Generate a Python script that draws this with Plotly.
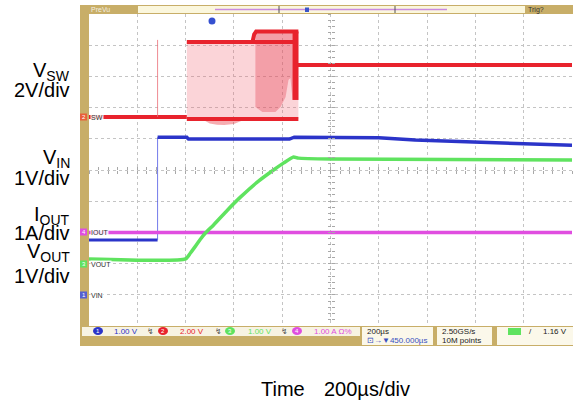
import plotly.graph_objects as go

# ---------------- data (time in µs from left screen edge) ----------------
# channel settings: ground position (divisions from centre) and units/div
sw_ground, sw_scale = 1.70, 2.0      # V_SW 2 V/div
vin_ground, vin_scale = -4.0, 1.0    # V_IN 1 V/div
iout_ground, iout_scale = -2.0, 1.0  # I_OUT 1 A/div
vout_ground, vout_scale = -3.0, 1.0  # V_OUT 1 V/div

# V_SW (volts)
vsw_pre_t = [0, 405]
vsw_pre_v = [0.0, 0.0]
vsw_spike_t = [284, 284]
vsw_spike_v = [0.0, 4.94]
vsw_top1_t = [405, 860]
vsw_top1_v = [4.81, 4.81]
vsw_top2_t = [677, 684, 692, 867]
vsw_top2_v = [4.81, 5.30, 5.48, 5.48]
vsw_bot_t = [405, 867]
vsw_bot_v = [-0.13, -0.13]
vsw_bump_t = [474, 500, 530, 560, 600, 640]
vsw_bump_v = [-0.20, -0.42, -0.50, -0.51, -0.45, -0.20]
vsw_dark_t = [689, 718, 772, 793, 814, 826, 834, 843]
vsw_dark_low = [0.64, 0.32, 0.32, 0.64, 1.28, 2.37, 2.50, 1.09]
vsw_bar_t = [855, 855]
vsw_bar_v = [1.09, 5.48]
vsw_post_t = [862, 1200, 1600, 2000]
vsw_post_v = [3.33, 3.33, 3.33, 3.33]

# V_IN (volts)
vin_pre_t = [0, 284]
vin_pre_v = [1.76, 1.76]
vin_step_t = [284, 284]
vin_step_v = [1.76, 5.05]
vin_t = [284, 405, 412, 830, 850, 1200, 1350, 1620, 2000]
vin_v = [5.05, 5.05, 4.99, 4.99, 5.05, 5.03, 4.96, 4.88, 4.79]

# I_OUT (amps)
iout_t = [0, 2000]
iout_v = [0.0, 0.0]

# V_OUT (volts)
vout_t = [0, 400, 420, 441, 462, 482, 516, 574, 627, 698, 764, 805, 847, 867, 1000, 2000]
vout_v = [0.15, 0.15, 0.34, 0.56, 0.79, 0.98, 1.24, 1.72, 2.13, 2.62, 3.00, 3.22, 3.42, 3.38, 3.35, 3.32]

# left labels / captions
left_labels = [("V<sub>SW</sub>", 70), ("2V/div", 89), ("V<sub>IN</sub>", 157), ("1V/div", 177),
               ("I<sub>OUT</sub>", 215), ("1A/div", 232), ("V<sub>OUT</sub>", 252), ("1V/div", 275)]
x_caption = ["Time", "200µs/div"]

# ---------------- helpers ----------------
W, H = 573, 407
L, R, T, B = 89, 572, 14, 326


def px(x):
    return (x - L) / (R - L)


def py(y):
    return (B - y) / (B - T)


def dv(vals, ground, scale):
    return [ground + v / scale for v in vals]


RED = "#e8232d"
BLUE = "#2b34c9"
GREEN = "#5fe35f"
MAG = "#e04ee0"
TAN = "#c8ae68"

fig = go.Figure()

# switching envelope fills
env_t = vsw_top1_t[:1] + [677] + vsw_top2_t[1:] + vsw_bot_t[::-1]
env_v = [4.81, 4.81] + vsw_top2_v[1:] + vsw_bot_v[::-1]
fig.add_trace(go.Scatter(x=env_t, y=dv(env_v, sw_ground, sw_scale), fill="toself",
                         fillcolor="rgba(240,100,115,0.28)", line=dict(width=0), mode="lines"))
bump_t = vsw_bump_t
fig.add_trace(go.Scatter(x=bump_t + bump_t[::-1], y=dv(vsw_bump_v + [-0.13] * len(bump_t), sw_ground, sw_scale),
                         fill="toself", fillcolor="rgba(232,50,60,0.40)", line=dict(width=0), mode="lines"))
dark_x = vsw_dark_t + vsw_dark_t[::-1]
dark_y = vsw_dark_low + [5.48] * len(vsw_dark_t)
fig.add_trace(go.Scatter(x=dark_x, y=dv(dark_y, sw_ground, sw_scale), fill="toself",
                         fillcolor="rgba(228,60,80,0.35)", line=dict(width=0), mode="lines"))

# V_SW lines
for tt, vv, w in [(vsw_pre_t, vsw_pre_v, 4), (vsw_top1_t, vsw_top1_v, 4), (vsw_top2_t, vsw_top2_v, 4),
                  (vsw_bot_t, vsw_bot_v, 4), (vsw_bar_t, vsw_bar_v, 6), (vsw_post_t, vsw_post_v, 4)]:
    fig.add_trace(go.Scatter(x=tt, y=dv(vv, sw_ground, sw_scale), mode="lines",
                             line=dict(color=RED, width=w)))
fig.add_trace(go.Scatter(x=vsw_spike_t, y=dv(vsw_spike_v, sw_ground, sw_scale), mode="lines",
                         line=dict(color="rgba(235,110,120,0.8)", width=1)))

# V_IN
fig.add_trace(go.Scatter(x=vin_pre_t, y=dv(vin_pre_v, vin_ground, vin_scale), mode="lines",
                         line=dict(color=BLUE, width=3)))
fig.add_trace(go.Scatter(x=vin_step_t, y=dv(vin_step_v, vin_ground, vin_scale), mode="lines",
                         line=dict(color="rgba(80,90,230,0.8)", width=1)))
fig.add_trace(go.Scatter(x=vin_t, y=dv(vin_v, vin_ground, vin_scale), mode="lines",
                         line=dict(color=BLUE, width=3.5)))

# I_OUT
fig.add_trace(go.Scatter(x=iout_t, y=dv(iout_v, iout_ground, iout_scale), mode="lines",
                         line=dict(color=MAG, width=3.5)))

# V_OUT
fig.add_trace(go.Scatter(x=vout_t, y=dv(vout_v, vout_ground, vout_scale), mode="lines",
                         line=dict(color=GREEN, width=3.5, shape="spline", smoothing=0.5)))

# ---------------- axes / grid ----------------
axcommon = dict(showticklabels=False, zeroline=False, showline=False, fixedrange=True)
fig.update_layout(
    width=W, height=H, margin=dict(l=L, r=W - R, t=T, b=H - B, pad=0),
    paper_bgcolor="white", plot_bgcolor="white", showlegend=False,
    xaxis=dict(range=[0, 2000], dtick=200, tick0=0, showgrid=True, gridcolor="#c4c4c4",
               griddash="dot", gridwidth=1, ticks="", **axcommon),
    yaxis=dict(range=[-5, 5], dtick=1, tick0=0, showgrid=True, gridcolor="#c4c4c4",
               griddash="dot", gridwidth=1, ticks="", **axcommon),
    xaxis2=dict(range=[0, 2000], overlaying="x", anchor="free", position=0.5, dtick=40, tick0=0,
                ticks="inside", ticklen=3, tickcolor="#a8a8a8", showgrid=False, **axcommon),
    xaxis3=dict(range=[0, 2000], overlaying="x", anchor="free", position=0.5, dtick=40, tick0=0,
                ticks="outside", ticklen=3, tickcolor="#a8a8a8", showgrid=False, **axcommon),
    yaxis2=dict(range=[-5, 5], overlaying="y", anchor="free", position=0.5, dtick=0.2, tick0=0,
                ticks="inside", ticklen=3, tickcolor="#a8a8a8", showgrid=False, **axcommon),
    yaxis3=dict(range=[-5, 5], overlaying="y", anchor="free", position=0.5, dtick=0.2, tick0=0,
                ticks="outside", ticklen=3, tickcolor="#a8a8a8", showgrid=False, **axcommon),
)
for xa, ya in [("x2", "y2"), ("x3", "y3")]:
    fig.add_trace(go.Scatter(x=[0, 2000], y=[-5, 5], xaxis=xa, yaxis=ya, mode="markers",
                             marker=dict(opacity=0), hoverinfo="skip"))

# ---------------- scope frame decorations ----------------
shapes = []
ann = []


def rect(x0, y0, x1, y1, color, line=None, layer="above"):
    shapes.append(dict(type="rect", xref="paper", yref="paper", x0=px(x0), x1=px(x1), y0=py(y0), y1=py(y1),
                       fillcolor=color, line=dict(width=0 if line is None else 1, color=line or color),
                       layer=layer))


def text(x, y, s, size=8, color="#222", anchor="left", family="Liberation Sans, Arial", bg=None):
    d = dict(xref="paper", yref="paper", x=px(x), y=py(y), text=s, showarrow=False, xanchor=anchor,
             yanchor="middle", font=dict(size=size, color=color, family=family), borderpad=0)
    if bg:
        d["bgcolor"] = bg
    ann.append(d)


# left strip, top bar, bottom bar
rect(80, 5, 89, 346, TAN)
rect(80, 5, 573, 14, TAN)
rect(138, 6, 525, 13, "#fbf7dd")
shapes.append(dict(type="line", xref="paper", yref="paper", x0=px(215), x1=px(447), y0=py(9.5), y1=py(9.5),
                   line=dict(color="#c98ae0", width=1.5)))
for xx in (279, 395):
    shapes.append(dict(type="line", xref="paper", yref="paper", x0=px(xx), x1=px(xx), y0=py(6), y1=py(13),
                       line=dict(color="#555", width=1)))
rect(305, 7.5, 309, 12, "#3a55c8")
text(90, 9.5, "PreVu", size=7, color="#f3efe0")
text(527, 9.5, "Trig?", size=7, color="#333")
rect(80, 326, 573, 346, TAN)
rect(82, 327, 360, 336, "#f7f3e3")
rect(362, 327, 433, 345, "#fbf8ea")
rect(437, 327, 492, 345, "#fbf8ea")
rect(497, 327, 573, 345, "#fbf8ea")

# trigger position marker
shapes.append(dict(type="circle", xref="paper", yref="paper", x0=px(208.5), x1=px(215.5), y0=py(17.5),
                   y1=py(24.5), fillcolor="#3550d0", line=dict(width=0)))

# channel tags
for y, col, num, lab in [(117, "#e8603a", "2", "SW"), (232, MAG, "4", "IOUT"),
                         (264, GREEN, "3", "VOUT"), (295, "#5560d0", "1", "VIN")]:
    rect(80, y - 3.5, 87, y + 3.5, col)
    text(83.5, y, num, size=6, color="white", anchor="center")
    text(90, y, lab, size=7, color="#333", bg="rgba(255,255,255,0.85)")

# bottom readouts
for cx, col, num, lab, lx in [(98, BLUE, "1", "1.00 V", 113), (163, RED, "2", "2.00 V", 179),
                              (230, GREEN, "3", "1.00 V", 247), (297, MAG, "4", "1.00 A Ω%", 313)]:
    shapes.append(dict(type="circle", xref="paper", yref="paper", x0=px(cx - 5), x1=px(cx + 5),
                       y0=py(335), y1=py(327), fillcolor=col, line=dict(width=0)))
    text(cx, 331, num, size=6, color="white", anchor="center")
    text(lx, 331, lab, size=8, color=col)
for sx in (150, 218, 284):
    text(sx, 331, "↯", size=8, color="#555", anchor="center", family="DejaVu Sans")
text(366, 331, "200µs", size=8, color="#222")
text(366, 340, "⊡→▼450.000µs", size=8, color="#3a4fc0")
text(441, 331, "2.50GS/s", size=8, color="#222")
text(441, 340, "10M points", size=8, color="#222")
rect(508, 328, 521, 335, GREEN)
text(528, 331, "/", size=8, color="#222")
text(542, 331, "1.16 V", size=8, color="#222")

# outside captions
for s, y in left_labels:
    text(71, y + 1, s, size=20, color="black", anchor="right", family="Liberation Sans, Arial")
text(260, 389, x_caption[0], size=20, color="black", family="Liberation Sans, Arial")
text(323, 389, x_caption[1], size=20, color="black", family="Liberation Sans, Arial")

fig.update_layout(shapes=shapes, annotations=ann)
fig.write_html("out.html", config={"displayModeBar": False},
               post_script="document.body.style.margin='0';")
